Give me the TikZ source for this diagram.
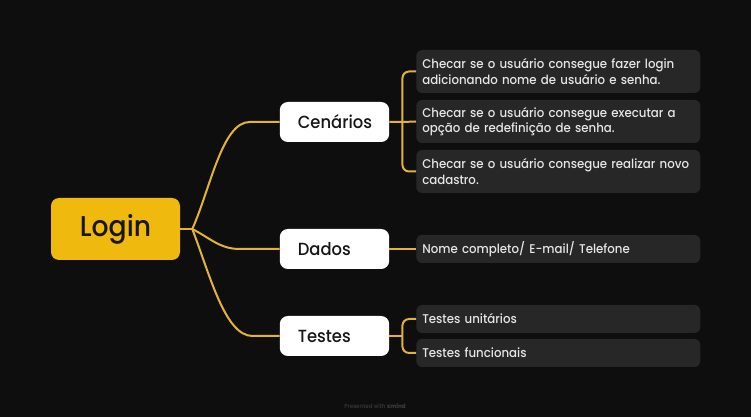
\documentclass[tikz,border=0pt]{standalone}
\usepackage{fontspec}
\setmainfont{Poppins Medium}[FakeStretch=0.93,WordSpace=0.85]
\usepackage{xcolor}
\definecolor{bgblack}{HTML}{0E0E0E}
\definecolor{topicyellow}{HTML}{EFB90D}
\definecolor{linkyellow}{HTML}{E3B23A}
\definecolor{cardgray}{HTML}{272727}
\definecolor{cardtext}{HTML}{E6E6E6}
\definecolor{inkdark}{HTML}{161616}
\definecolor{markgray}{HTML}{3A3A3A}
\usepackage{tikz}
\usetikzlibrary{calc}

\begin{document}
\begin{tikzpicture}[x=0.75pt,y=-0.75pt,
    topic/.style={fill=topicyellow,text=inkdark,rounded corners=6pt,
      minimum width=96.75pt,minimum height=46.5pt,
      font=\fontsize{21.5}{25}\selectfont},
    branch/.style={fill=white,text=inkdark,rounded corners=6pt,
      text width=55pt,align=left,inner xsep=13.5pt,
      minimum height=30pt,
      font=\fontsize{13.2}{16}\selectfont},
    card/.style={fill=cardgray,text=cardtext,rounded corners=4.5pt,anchor=west,
      text width=204pt,align=left,inner xsep=4.5pt,inner ysep=0pt,
      font=\fontsize{9.5}{11.4}\selectfont},
    onecard/.style={card,minimum height=21pt},
    twocard/.style={card,minimum height=32.25pt},
    link/.style={linkyellow,line width=1.5pt}]
    % background
    \fill[bgblack] (0,0) rectangle (751,417);
    % central topic and branches
    \node[topic] (login) at (115.5,229) {Login};
    \node[branch] (cenarios) at (334.5,122) {Cenários};
    \node[branch] (dados) at (334.5,249) {Dados};
    \node[branch] (testes) at (334.5,336) {Testes};
    % detail cards
    \node[twocard] (c1) at (416,71.5) {Checar se o usuário consegue fazer login adicionando nome de usuário e senha.};
    \node[twocard] (c2) at (416,121.5) {Checar se o usuário consegue executar a opção de redefinição de senha.};
    \node[twocard] (c3) at (416,171.5) {Checar se o usuário consegue realizar novo cadastro.};
    \node[onecard] (d1) at (416,249) {Nome completo/ E-mail/ Telefone};
    \node[onecard] (t1) at (416,319) {Testes unitários};
    \node[onecard] (t2) at (416,353) {Testes funcionais};
    % curved links from the topic
    \coordinate (hub) at ($(login.east)+(12,0)$);
    \draw[link] (login.east) -- (hub);
    \draw[link] (hub) .. controls (210,190) and (222,122) .. ($(cenarios.west)+(-30,0)$) -- (cenarios.west);
    \draw[link] (hub) .. controls (210,238) and (220,249) .. ($(dados.west)+(-40,0)$) -- (dados.west);
    \draw[link] (hub) .. controls (210,275) and (225,336) .. ($(testes.west)+(-27,0)$) -- (testes.west);
    % brackets to the cards
    \coordinate (cbar) at ($(cenarios.east)+(13,0)$);
    \draw[link] (cenarios.east) -- (cbar) -- (c2.west);
    \draw[link,rounded corners=5pt] (c1.west) -| (cbar) |- (c3.west);
    \draw[link] (dados.east) -- (d1.west);
    \coordinate (tbar) at ($(testes.east)+(13,0)$);
    \draw[link] (testes.east) -- (tbar);
    \draw[link,rounded corners=5pt] (t1.west) -| (tbar) |- (t2.west);
    % watermark
    \node[markgray,font=\fontsize{4.5}{5}\selectfont] (mark) at (375,406) {Presented with \textbf{xmind}};
\end{tikzpicture}
\end{document}
